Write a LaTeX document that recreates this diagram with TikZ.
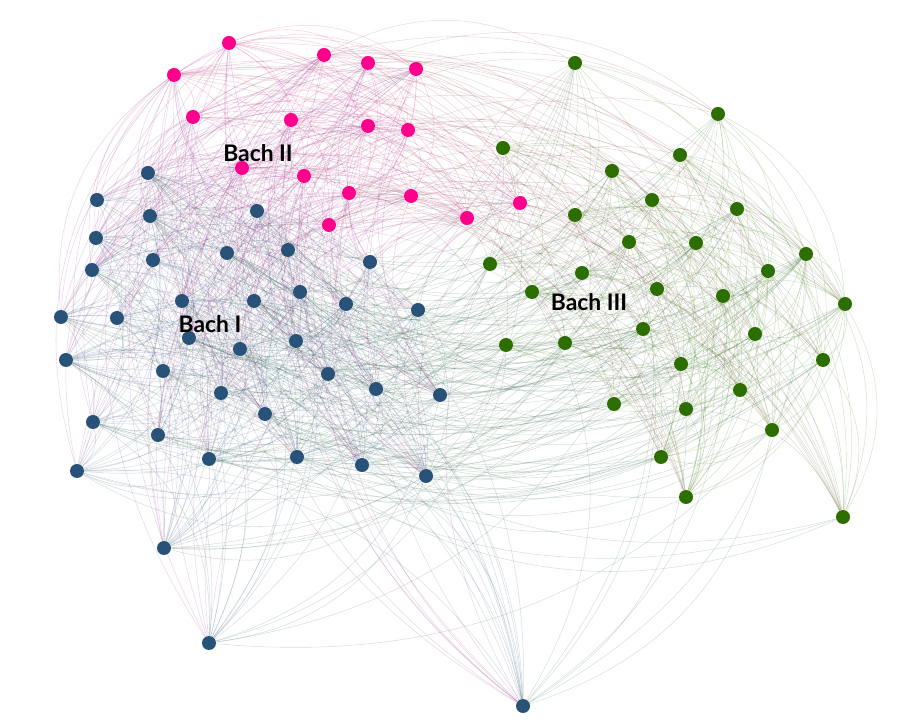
\documentclass[tikz,border=0pt]{standalone}
\usepackage{fontspec}
\newfontfamily\labfont{Lato}
\pgfdeclarelayer{bg}
\pgfsetlayers{bg,main}
\definecolor{bl}{RGB}{40,82,120}
\definecolor{pk}{RGB}{255,0,140}
\definecolor{gr}{RGB}{45,110,0}
\tikzset{
  vtx/.style={circle,inner sep=0pt,minimum size=2.8mm},
  bn/.style={vtx,fill=bl},
  pn/.style={vtx,fill=pk},
  gn/.style={vtx,fill=gr},
  edg/.style={line width=0.3pt,draw opacity=0.2},
  eBB/.style={edg,draw=bl},
  ePP/.style={edg,draw=pk!85!bl},
  eGG/.style={edg,draw=gr},
  eBP/.style={edg,draw=bl!50!pk},
  eBG/.style={edg,draw=bl!50!gr},
  ePG/.style={edg,draw=pk!45!gr},
  lab/.style={font=\labfont\bfseries\fontsize{13}{15}\selectfont,text=black,inner sep=0pt}
}
\newcommand\maybeedge[4]{% prob, style, from, to
  \pgfmathsetmacro\rr{rnd}%
  \ifdim\rr pt<#1pt \draw[#2] (#3) to[bend left=30] (#4);\fi}
\begin{document}
\begin{tikzpicture}[x=0.2mm,y=-0.2mm]
\useasboundingbox (0,0) rectangle (900,726);
\foreach [count=\k] \p in {(148,173),(97,200),(150,216),(257,211),(96,238),(92,270),(153,260),(227,253),(288,250),(370,262),(182,301),(254,301),(300,292),(346,304),(418,310),(61,317),(117,318),(189,338),(240,349),(296,341),(66,360),(163,371),(328,374),(221,393),(376,389),(440,395),(265,414),(93,422),(158,435),(209,459),(297,457),(362,465),(426,476),(77,471),(164,548),(209,643),(523,706)}
  {\node[bn] (b\k) at \p {};}
\foreach [count=\k] \p in {(229,43),(174,75),(324,55),(368,63),(416,69),(193,117),(291,120),(368,126),(408,130),(242,168),(304,176),(349,193),(411,196),(329,225),(467,218),(520,203)}
  {\node[pn] (p\k) at \p {};}
\foreach [count=\k] \p in {(575,63),(718,114),(503,148),(680,155),(612,171),(652,200),(575,215),(737,209),(629,242),(696,243),(490,264),(582,273),(806,254),(768,271),(532,292),(657,289),(723,296),(845,304),(643,329),(755,334),(506,345),(565,343),(681,364),(823,360),(614,404),(686,409),(740,390),(772,430),(661,457),(686,497),(843,517)}
  {\node[gn] (g\k) at \p {};}
\node[lab] (l2) at (258,153) {Bach II};
\node[lab] (l1) at (210,324) {Bach I};
\node[lab] (l3) at (589,302) {Bach III};
\begin{pgfonlayer}{bg}
\pgfmathsetseed{2024}
\foreach \i in {1,...,37}{\foreach \j in {1,...,37}{\ifnum\j>\i \maybeedge{0.42}{eBB}{b\i}{b\j}\fi}}
\foreach \i in {1,...,16}{\foreach \j in {1,...,16}{\ifnum\j>\i \maybeedge{0.65}{ePP}{p\i}{p\j}\fi}}
\foreach \i in {1,...,31}{\foreach \j in {1,...,31}{\ifnum\j>\i \maybeedge{0.45}{eGG}{g\i}{g\j}\fi}}
\foreach \i in {1,...,37}{\foreach \j in {1,...,16}{\maybeedge{0.38}{eBP}{b\i}{p\j}}}
\foreach \i in {1,...,37}{\foreach \j in {1,...,31}{\maybeedge{0.16}{eBG}{g\j}{b\i}}}
\foreach \i in {1,...,16}{\foreach \j in {1,...,31}{\maybeedge{0.17}{ePG}{p\i}{g\j}}}
\end{pgfonlayer}
\end{tikzpicture}
\end{document}
